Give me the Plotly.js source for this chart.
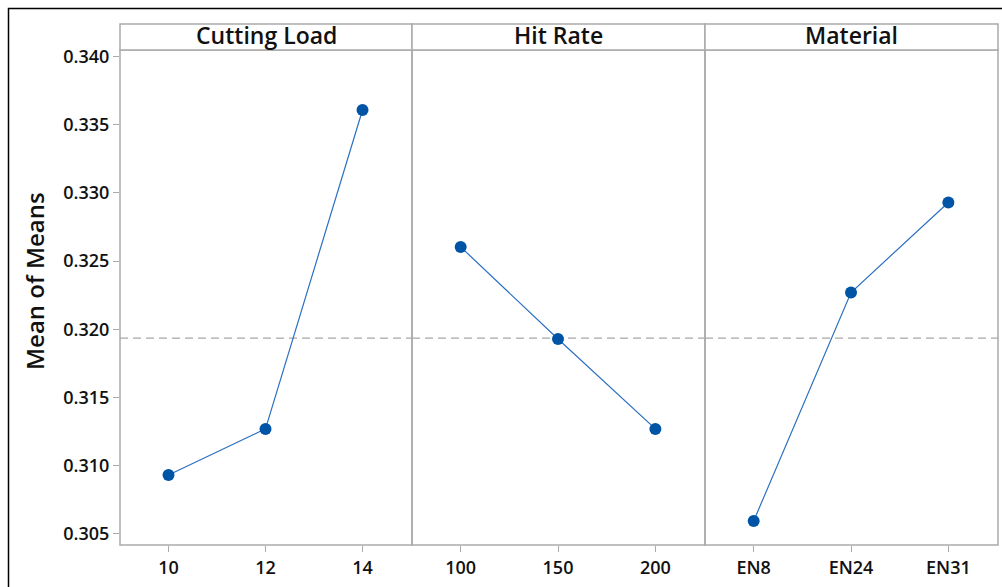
<!DOCTYPE html>
<html>
<head>
<meta charset="utf-8">
<script src="https://cdn.plot.ly/plotly-3.0.1.min.js"></script>
<style>html,body{margin:0;padding:0;background:#fff;}#chart{width:1002px;height:587px;}</style>
</head>
<body>
<div id="chart"></div>
<script>
const factors = ["Cutting Load", "Hit Rate", "Material"];
const cuttingLoadLevels = ["10", "12", "14"];
const cuttingLoadMeans = [0.30932, 0.31270, 0.33608];
const hitRateLevels = ["100", "150", "200"];
const hitRateMeans = [0.32604, 0.31929, 0.31270];
const materialLevels = ["EN8", "EN24", "EN31"];
const materialMeans = [0.30595, 0.32270, 0.32930];
const grandMean = 0.31935;
const yTickVals = [0.305, 0.310, 0.315, 0.320, 0.325, 0.330, 0.335, 0.340];
const yTickText = ["0.305", "0.310", "0.315", "0.320", "0.325", "0.330", "0.335", "0.340"];

const W = 1002, H = 587;
const px = v => v / W, py = v => 1 - v / H;
const panelX = [[120, 412], [412, 705], [705, 998]];
const plotTop = 50, plotBottom = 545, headTop = 24;

const levels = [cuttingLoadLevels, hitRateLevels, materialLevels];
const means = [cuttingLoadMeans, hitRateMeans, materialMeans];
const gray = "#ababab";
const font = {family: "Open Sans, Noto Sans, sans-serif", color: "#111"};

const traces = levels.map((lv, i) => ({
  x: lv, y: means[i], type: "scatter", mode: "lines+markers",
  xaxis: i === 0 ? "x" : "x" + (i + 1), yaxis: "y",
  line: {color: "#2b6fc0", width: 1.2},
  marker: {color: "#0054a6", size: 12},
  hoverinfo: "x+y", showlegend: false
}));

const layout = {
  width: W, height: H,
  margin: {l: 0, r: 0, t: 0, b: 0},
  paper_bgcolor: "#fff", plot_bgcolor: "#fff",
  showlegend: false,
  yaxis: {
    domain: [py(plotBottom), py(plotTop)],
    range: [0.30419, 0.340476],
    tickvals: yTickVals, ticktext: yTickText,
    ticks: "outside", ticklen: 6, tickcolor: gray, tickwidth: 1,
    showgrid: false, zeroline: false, showline: false,
    tickfont: Object.assign({size: 18, weight: 600}, font),
    anchor: "x"
  },
  shapes: [], annotations: []
};

panelX.forEach((p, i) => {
  const key = i === 0 ? "xaxis" : "xaxis" + (i + 1);
  layout[key] = {
    domain: [px(p[0]), px(p[1])],
    type: "category",
    range: [-0.5, 2.51],
    ticks: "outside", ticklen: 6, tickcolor: gray, tickwidth: 1,
    showgrid: false, zeroline: false, showline: false,
    tickfont: Object.assign({size: 18, weight: 600}, font),
    anchor: "y"
  };
  layout.shapes.push({type: "rect", xref: "paper", yref: "paper",
    x0: px(p[0]), x1: px(p[1]), y0: py(plotBottom), y1: py(plotTop),
    line: {color: gray, width: 1.5}, fillcolor: "rgba(0,0,0,0)", layer: "above"});
  layout.shapes.push({type: "rect", xref: "paper", yref: "paper",
    x0: px(p[0]), x1: px(p[1]), y0: py(plotTop), y1: py(headTop),
    line: {color: gray, width: 1.5}, fillcolor: "#fff", layer: "above"});
  const xr = i === 0 ? "x domain" : "x" + (i + 1) + " domain";
  layout.shapes.push({type: "line", xref: xr, yref: "y",
    x0: 0, x1: 1, y0: grandMean, y1: grandMean,
    line: {color: "#a8a8a8", width: 1.3, dash: "8px,5px"}, layer: "below"});
  layout.annotations.push({xref: "paper", yref: "paper",
    x: px((p[0] + p[1]) / 2), y: py(35),
    text: factors[i], showarrow: false, xanchor: "center", yanchor: "middle",
    font: Object.assign({size: 23, weight: 600}, font)});
});

layout.shapes.push({type: "rect", xref: "paper", yref: "paper",
  x0: px(8.5), x1: px(1020), y0: py(620), y1: py(8.5),
  line: {color: "#000", width: 1.5}, fillcolor: "rgba(0,0,0,0)", layer: "above"});

layout.annotations.push({xref: "paper", yref: "paper",
  x: px(34), y: py(281), text: "Mean of Means", textangle: -90,
  showarrow: false, xanchor: "center", yanchor: "middle",
  font: Object.assign({size: 24, weight: 600}, font)});

Plotly.newPlot("chart", traces, layout, {displayModeBar: false, staticPlot: true});
</script>
</body>
</html>
